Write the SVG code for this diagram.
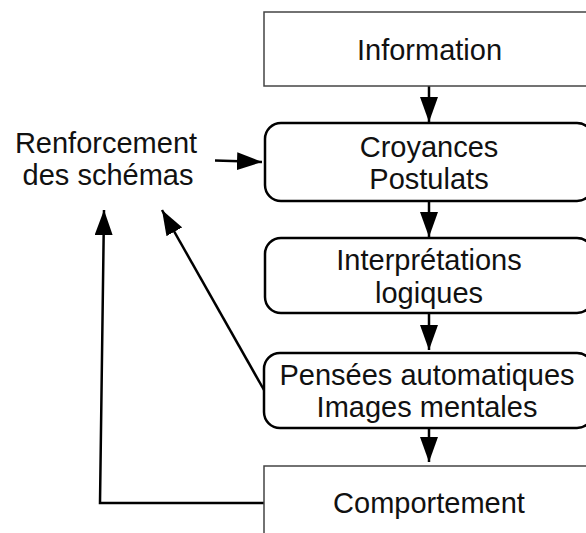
<svg xmlns="http://www.w3.org/2000/svg" width="586" height="533" viewBox="0 0 586 533">
  <style>
    .t { font-family: "Liberation Sans", Arial, Helvetica, sans-serif; font-size: 29px; fill: #111; text-anchor: middle; }
    .sq { fill: #fff; stroke: #444; stroke-width: 1.5; }
    .rd { fill: #fff; stroke: #000; stroke-width: 2.5; }
    .c { fill: none; stroke: #000; stroke-width: 2.5; }
  </style>
  <defs>
    <marker id="ah" viewBox="0 0 25 18" refX="25" refY="9" markerWidth="25" markerHeight="18" markerUnits="userSpaceOnUse" orient="auto">
      <path d="M0,0 L25,9 L0,18 Z" fill="#000"/>
    </marker>
  </defs>
  <rect width="586" height="533" fill="#fff"/>
  <g id="connectors">
    <line class="c" x1="429" y1="86" x2="429" y2="122" marker-end="url(#ah)"/>
    <line class="c" x1="429" y1="201" x2="429" y2="237" marker-end="url(#ah)"/>
    <line class="c" x1="429" y1="313" x2="429" y2="350" marker-end="url(#ah)"/>
    <line class="c" x1="429" y1="428" x2="429" y2="462" marker-end="url(#ah)"/>
    <line class="c" x1="215" y1="160.5" x2="262" y2="162" marker-end="url(#ah)"/>
    <line class="c" x1="264" y1="390" x2="162" y2="210" marker-end="url(#ah)"/>
    <polyline class="c" points="264,503 100,503 104,210" marker-end="url(#ah)"/>
  </g>
  <g id="renforcement">
    <text class="t" x="106" y="153">Renforcement</text>
    <text class="t" x="108" y="185">des schémas</text>
  </g>
  <g id="information">
    <rect class="sq" x="264" y="12" width="330" height="74"/>
    <text class="t" x="429.5" y="59.5">Information</text>
  </g>
  <g id="croyances">
    <rect class="rd" x="265" y="123" width="328" height="78" rx="16" ry="16"/>
    <text class="t" x="429" y="156.5">Croyances</text>
    <text class="t" x="429" y="189">Postulats</text>
  </g>
  <g id="interpretations">
    <rect class="rd" x="265" y="238" width="328" height="75" rx="16" ry="16"/>
    <text class="t" x="429" y="270">Interprétations</text>
    <text class="t" x="429" y="303">logiques</text>
  </g>
  <g id="pensees">
    <rect class="rd" x="264" y="353" width="329" height="75" rx="16" ry="16"/>
    <text class="t" x="427" y="384.5">Pensées automatiques</text>
    <text class="t" x="427" y="416.5">Images mentales</text>
  </g>
  <g id="comportement">
    <rect class="sq" x="264" y="466" width="330" height="74"/>
    <text class="t" x="429" y="513">Comportement</text>
  </g>
</svg>
